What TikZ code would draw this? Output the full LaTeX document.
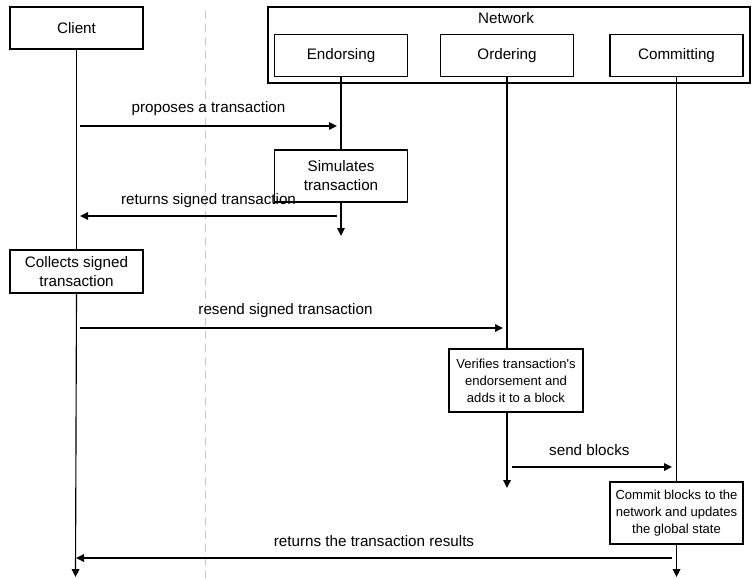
\documentclass[tikz,border=0pt]{standalone}
\usepackage{fontspec}
\setmainfont{Liberation Sans}
\usetikzlibrary{arrows.meta}

\begin{document}
\begin{tikzpicture}[x=0.75pt, y=-0.75pt,
		box/.style={draw, line width=0.85pt, minimum width=99.75pt, minimum height=31.5pt, inner sep=0pt, align=center, font=\fontsize{11.4}{14.25}\selectfont},
		smallbox/.style={box, font=\fontsize{9.8}{12.75}\selectfont},
		life/.style={line width=0.85pt},
		lifeend/.style={life, -{Triangle[width=5.75pt,length=6pt]}},
		msg/.style={line width=0.85pt, -{Triangle[width=5.75pt,length=6pt]}},
		lbl/.style={midway, yshift=12.75pt, font=\fontsize{11.4}{14.25}\selectfont}]
			\useasboundingbox (0,0) rectangle (755,578);
			% divider
			\coordinate (divtop) at (205,11);
			\coordinate (divbot) at (205,578);
			\draw[color=black!22, line width=0.75pt, dash pattern=on 6pt off 4pt] (divtop) -- (divbot);
			% participants
			\node[draw, line width=0.85pt, minimum width=361.5pt, minimum height=57pt, inner sep=0pt] (network) at (509,45) {};
			\node[font=\fontsize{11.4}{14.25}\selectfont] (nettitle) at (506,18) {Network};
			\node[box] (client) at (76.5,28) {Client};
			\node[box] (endorsing) at (341,55.5) {Endorsing};
			\node[box] (ordering) at (507,55.5) {Ordering};
			\node[box] (committing) at (676.5,55.5) {Committing};
			% activity boxes
			\node[box, minimum height=39pt] (simulates) at (341,176) {Simulates\\transaction};
			\node[box, minimum height=32.25pt] (collects) at (76.5,271.5) {Collects signed\\transaction};
			\node[smallbox, minimum width=100.5pt, minimum height=47.25pt] (verifies) at (516,380.5) {Verifies transaction\textquotesingle s\\endorsement and\\adds it to a block};
			\node[smallbox, minimum height=46.5pt] (commit) at (676.5,513) {Commit blocks to the\\network and updates\\the global state};
			% lifelines
			\coordinate (clientend) at (75.5,577);
			\coordinate (endend) at (341,236);
			\coordinate (ordend) at (507,488);
			\coordinate (comend) at (676.5,577);
			\draw[life] (client.south) -- (collects.north);
			\draw[lifeend] (collects.south) -- (clientend);
			\draw[life] (endorsing.south) -- (simulates.north);
			\draw[lifeend] (simulates.south) -- (endend);
			\draw[life] (ordering.south) -- (ordering.south |- verifies.north);
			\draw[lifeend] (ordering.south |- verifies.south) -- (ordend);
			\draw[life] (committing.south) -- (commit.north);
			\draw[lifeend] (commit.south) -- (comend);
			% messages
			\coordinate (propose1) at (80,126);
			\coordinate (propose2) at (337,126);
			\coordinate (return1) at (337,216);
			\coordinate (return2) at (80,216);
			\coordinate (resend1) at (80,328);
			\coordinate (resend2) at (503,328);
			\coordinate (blocks1) at (512,467);
			\coordinate (blocks2) at (672,467);
			\coordinate (result1) at (672,558);
			\coordinate (result2) at (76,558);
			\draw[msg] (propose1) -- node[lbl] {proposes a transaction} (propose2);
			\draw[msg] (return1) -- node[lbl, yshift=-1.5pt] {returns signed transaction} (return2);
			\draw[msg] (resend1) -- node[lbl, xshift=-4.5pt] {resend signed transaction} (resend2);
			\draw[msg] (blocks1) -- node[lbl, xshift=-2pt] {send blocks} (blocks2);
			\draw[msg] (result1) -- node[lbl] {returns the transaction results} (result2);
		\end{tikzpicture}
\end{document}
